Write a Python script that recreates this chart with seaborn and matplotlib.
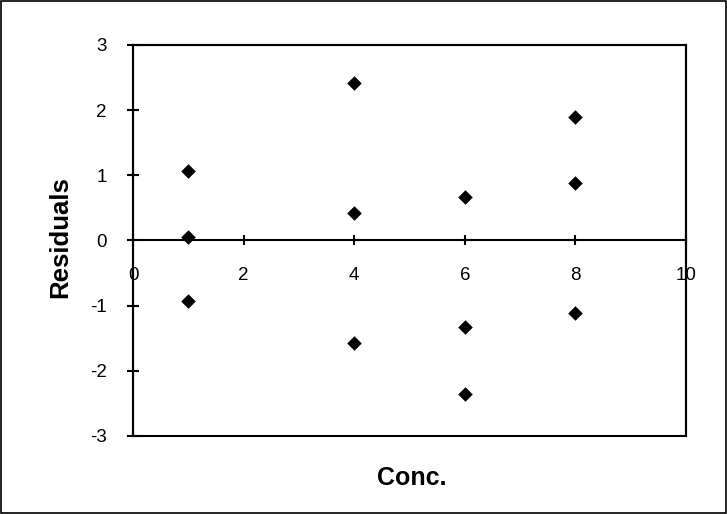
import matplotlib
matplotlib.use("Agg")
import matplotlib.pyplot as plt
import seaborn as sns
import pandas as pd
from matplotlib.patches import Rectangle

conc = [1, 1, 1, 4, 4, 4, 6, 6, 6, 8, 8, 8]
residuals = [1.07, 0.06, -0.93, 2.42, 0.42, -1.58, 0.67, -1.33, -2.35, 1.90, 0.88, -1.12]
x_ticks = [0, 2, 4, 6, 8, 10]
y_ticks = [-3, -2, -1, 0, 1, 2, 3]

df = pd.DataFrame({"Conc.": conc, "Residuals": residuals})

sns.set_style("white")
plt.rcParams["font.family"] = ["Liberation Sans", "DejaVu Sans"]
plt.rcParams["axes.unicode_minus"] = False
plt.rcParams["text.color"] = "black"
plt.rcParams["axes.labelcolor"] = "black"

fig = plt.figure(figsize=(7.27, 5.14), dpi=100)
ax = fig.add_axes([0.183, 0.1518, 0.7606, 0.7607])

sns.scatterplot(data=df, x="Conc.", y="Residuals", marker="D", color="black",
                s=55, edgecolor="black", linewidth=0, ax=ax, zorder=5, clip_on=False)

ax.set_xlim(0, 10)
ax.set_ylim(-3, 3)
ax.set_xticks(x_ticks)
ax.set_yticks(y_ticks)

for s in ["top", "right", "left"]:
    ax.spines[s].set_visible(True)
    ax.spines[s].set_color("black")
    ax.spines[s].set_linewidth(1.5)
ax.spines["bottom"].set_position(("data", 0))
ax.spines["bottom"].set_color("black")
ax.spines["bottom"].set_linewidth(1.5)
ax.add_patch(Rectangle((0, 0), 1, 1, transform=ax.transAxes, fill=False,
                       edgecolor="black", linewidth=1.5, clip_on=False, zorder=4))

ax.tick_params(axis="x", direction="inout", length=7, width=1.5, labelsize=13.5,
               pad=15.5, bottom=True, colors="black")
ax.tick_params(axis="y", direction="inout", length=8, width=1.5, labelsize=13.5,
               pad=15, left=True, colors="black")

ax.set_xlabel("")
ax.set_ylabel("Residuals", fontsize=18.5, fontweight="bold")
ax.yaxis.set_label_coords(-0.110, 0.51)
fig.text(412 / 727, 1 - 478 / 514, "Conc.", ha="center", va="center",
         fontsize=18, fontweight="bold")

fig.patches.append(Rectangle((0.001, 0.001), 0.997, 0.997, transform=fig.transFigure,
                             fill=False, edgecolor="black", linewidth=1.2))

fig.savefig("out.png", dpi=100)
